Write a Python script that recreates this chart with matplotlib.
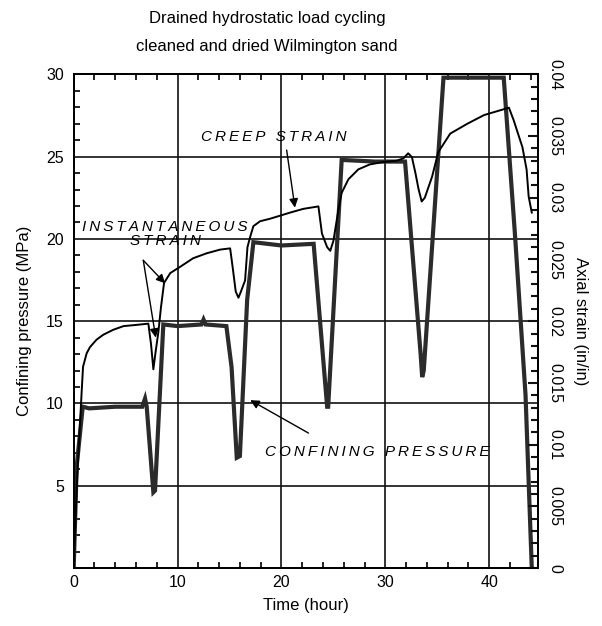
import matplotlib
matplotlib.use("Agg")
import matplotlib.pyplot as plt
from matplotlib.ticker import MultipleLocator, FixedLocator

plt.rcParams['font.family'] = ['Liberation Sans', 'DejaVu Sans']

# confining pressure (MPa) vs time (hour)
press_t = [0.0, 0.29, 0.87, 1.5, 4.0, 6.6, 6.87, 7.03, 7.67, 7.83, 8.63, 10.0, 12.3, 12.5, 12.7,
           14.7, 15.2, 15.7, 16.0, 16.7, 17.3, 20.0, 23.1, 24.4, 24.5, 25.8, 29.0, 31.9,
           33.4, 33.55, 33.7, 35.6, 38.0, 41.4, 42.5, 43.5, 44.1]
press_p = [0.0, 6.2, 9.8, 9.7, 9.8, 9.8, 10.3, 9.8, 4.6, 4.7, 14.8, 14.7, 14.8, 15.1, 14.8,
           14.7, 12.2, 6.7, 6.8, 16.3, 19.8, 19.6, 19.7, 9.8, 9.8, 24.8, 24.7, 24.7,
           13.0, 11.6, 12.0, 29.8, 29.8, 29.8, 20.1, 10.5, 0.0]

# axial strain (in/in) vs time (hour)
strain_t = [0.0, 0.3, 0.75, 0.9, 1.25, 1.57, 2.2, 2.85, 3.8, 4.8, 6.07, 7.19, 7.45, 7.67, 7.9,
            8.15, 8.4, 8.7, 9.3, 10.24, 11.5, 12.8, 14.1, 15.06, 15.3, 15.6, 15.86, 16.1, 16.5,
            16.73, 16.98, 17.3, 17.95, 18.9, 20.84, 22.1, 23.56, 23.9, 24.4, 24.7, 25.0, 25.5,
            25.8, 26.45, 27.4, 28.5, 29.8, 31.1, 31.75, 32.2, 32.56, 32.9, 33.2, 33.5, 33.8,
            34.5, 35.1, 36.25, 37.9, 39.5, 41.1, 41.9, 42.35, 43.2, 43.6, 43.8, 44.1]
strain_e = [0.0, 0.0067, 0.0140, 0.0163, 0.0174, 0.0179, 0.0185, 0.0189, 0.0193, 0.0196,
            0.0197, 0.0198, 0.0181, 0.0161, 0.0176, 0.0191, 0.0211, 0.0231, 0.0239, 0.0244,
            0.0251, 0.0255, 0.0258, 0.0259, 0.0244, 0.0224, 0.0219, 0.0224, 0.0233, 0.0260,
            0.0268, 0.0277, 0.0281, 0.0283, 0.0288, 0.0291, 0.0293, 0.0271, 0.0260, 0.0257,
            0.0265, 0.0291, 0.0304, 0.0315, 0.0323, 0.0327, 0.0329, 0.0330, 0.0332, 0.0336,
            0.0333, 0.0320, 0.0307, 0.0297, 0.0300, 0.0317, 0.0337, 0.0352, 0.0360, 0.0367,
            0.0371, 0.0373, 0.0363, 0.0341, 0.0323, 0.0301, 0.0288]

x_ticks = [0, 10, 20, 30, 40]
p_ticks = [5, 10, 15, 20, 25, 30]
e_ticks = [0, 0.005, 0.01, 0.015, 0.02, 0.025, 0.03, 0.035, 0.04]
e_labels = ['0', '0.005', '0.01', '0.015', '0.02', '0.025', '0.03', '0.035', '0.04']

fig = plt.figure(figsize=(6.02, 6.26), dpi=100)
ax = fig.add_axes([0.1224, 0.0927, 0.7713, 0.7885])

ax.plot(press_t, press_p, color='#2b2b2b', lw=3.0, solid_joinstyle='miter', zorder=3)
ax.set_xlim(0, 44.7)
ax.set_ylim(0, 30)
ax.xaxis.set_major_locator(FixedLocator(x_ticks))
ax.xaxis.set_minor_locator(MultipleLocator(2))
ax.yaxis.set_major_locator(FixedLocator(p_ticks))
ax.yaxis.set_minor_locator(MultipleLocator(1))
ax.grid(True, which='major', color='#111111', lw=1.2)
ax.tick_params(which='both', direction='in', top=True, right=False, labelsize=11.5, color='#111111')
ax.tick_params(which='major', length=0)
ax.tick_params(which='minor', length=4, width=1.3)
ax.tick_params(axis='y', pad=7)
ax.tick_params(axis='x', pad=5)
for s in ax.spines.values():
    s.set_linewidth(1.4)
ax.set_xlabel('Time (hour)', fontsize=12, labelpad=6)
ax.set_ylabel('Confining pressure (MPa)', fontsize=12, labelpad=10)

ax2 = ax.twinx()
ax2.plot(strain_t, strain_e, color='black', lw=1.4, zorder=4)
ax2.set_ylim(0, 0.04)
ax2.yaxis.set_major_locator(FixedLocator(e_ticks))
ax2.set_yticklabels(e_labels, rotation=-90, va='center')
ax2.yaxis.set_minor_locator(MultipleLocator(0.001))
ax2.tick_params(which='both', direction='in', labelsize=11.5, pad=7, color='#111111')
ax2.tick_params(which='major', length=7, width=1.5)
ax2.tick_params(which='minor', length=5, width=1.5)
ax2.set_ylabel('Axial strain (in/in)', fontsize=12, rotation=-90, labelpad=18)
for s in ax2.spines.values():
    s.set_linewidth(1.4)

sp = '\u2009'
arrow = dict(arrowstyle='-|>', color='black', lw=1.0, mutation_scale=13, shrinkA=0, shrinkB=0)
ax.text(19.3, 26.2, sp.join('CREEP STRAIN'), fontsize=11, style='italic', ha='center', va='center')
ax.annotate('', xy=(21.3, 21.9), xytext=(20.5, 25.4), arrowprops=arrow)
ax.text(8.8, 20.3, sp.join('INSTANTANEOUS') + '\n' + sp.join('STRAIN'), fontsize=11,
        style='italic', ha='center', va='center', linespacing=1.05)
ax.annotate('', xy=(8.8, 17.3), xytext=(6.7, 18.7), arrowprops=arrow)
ax.annotate('', xy=(7.9, 14.0), xytext=(6.7, 18.7), arrowprops=arrow)
ax.text(29.2, 7.07, sp.join('CONFINING PRESSURE'), fontsize=11, style='italic', ha='center', va='center')
ax.annotate('', xy=(17.0, 10.2), xytext=(22.6, 8.2), arrowprops=arrow)

fig.text(0.4435, 1 - 18 / 626, 'Drained hydrostatic load cycling', fontsize=12, ha='center', va='center')
fig.text(0.4435, 1 - 46 / 626, 'cleaned and dried Wilmington sand', fontsize=12, ha='center', va='center')

fig.savefig('out.png', dpi=100)
